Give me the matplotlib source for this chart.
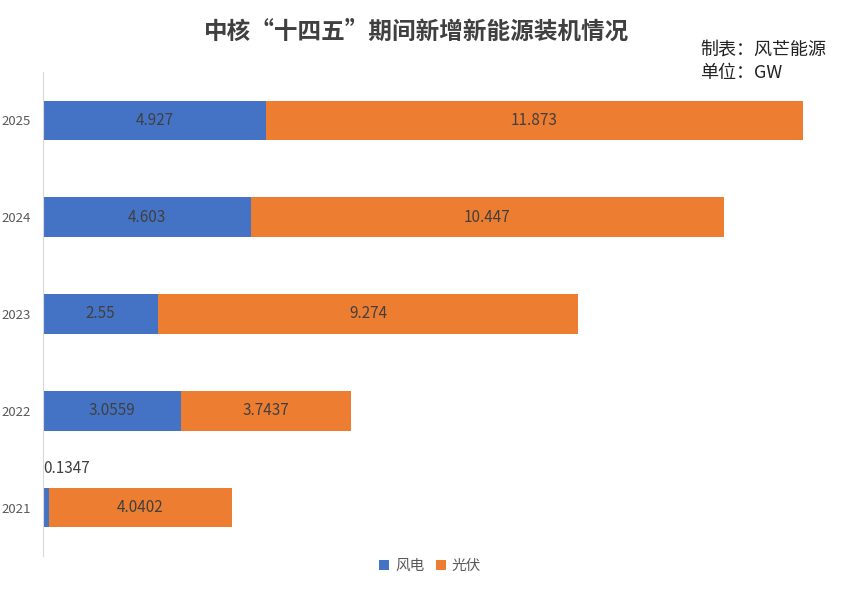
import matplotlib.pyplot as plt
import numpy as np

plt.rcParams['font.family'] = ['Noto Sans CJK SC', 'DejaVu Sans']

years = ["2021", "2022", "2023", "2024", "2025"]
wind = [0.1347, 3.0559, 2.55, 4.603, 4.927]
solar = [4.0402, 3.7437, 9.274, 10.447, 11.873]
wind_labels = ["0.1347", "3.0559", "2.55", "4.603", "4.927"]
solar_labels = ["4.0402", "3.7437", "9.274", "10.447", "11.873"]

blue = "#4472C4"
orange = "#ED7D31"
txt = "#404040"

fig = plt.figure(figsize=(8.55, 6), dpi=100)
ax = fig.add_axes([43 / 855, 44 / 600, (830 - 43) / 855, 484 / 600])

y = np.arange(len(years))
ax.barh(y, wind, height=0.41, color=blue, label="风电")
ax.barh(y, solar, left=wind, height=0.41, color=orange, label="光伏")

for i in range(len(years)):
    if wind[i] > 1:
        ax.text(wind[i] / 2, y[i], wind_labels[i], ha="center", va="center",
                fontsize=11, color=txt)
    else:
        # tiny segment: label sits above the bar
        ax.text(0, y[i] + 0.4, wind_labels[i], ha="left", va="center",
                fontsize=11, color=txt)
    ax.text(wind[i] + solar[i] / 2, y[i], solar_labels[i], ha="center",
            va="center", fontsize=11, color=txt)

ax.set_xlim(0, 17.4)
ax.set_ylim(-0.5, 4.5)
ax.set_yticks(y)
ax.set_yticklabels(years, fontsize=9.5, color="#595959")
ax.set_xticks([])
ax.tick_params(axis="y", length=0, pad=9)
for s in ["top", "right", "bottom"]:
    ax.spines[s].set_visible(False)
ax.spines["left"].set_color("#D9D9D9")

fig.text(417 / 855, 0.948, "中核“十四五”期间新增新能源装机情况", ha="center", va="center",
         fontsize=17, fontweight="bold", color=txt)
fig.text(700 / 855, 1 - 50 / 600, "制表：风芒能源", ha="left", va="center",
         fontsize=13, color="#222222")
fig.text(700 / 855, 1 - 73 / 600, "单位：GW", ha="left", va="center",
         fontsize=13, color="#222222")

fig.legend(loc="center", bbox_to_anchor=(430 / 855, 1 - 566 / 600), ncol=2,
           frameon=False, fontsize=10.5, handlelength=0.7, handleheight=0.7,
           handletextpad=0.4, columnspacing=0.8, labelcolor="#595959")

fig.savefig("out.png", dpi=100)
